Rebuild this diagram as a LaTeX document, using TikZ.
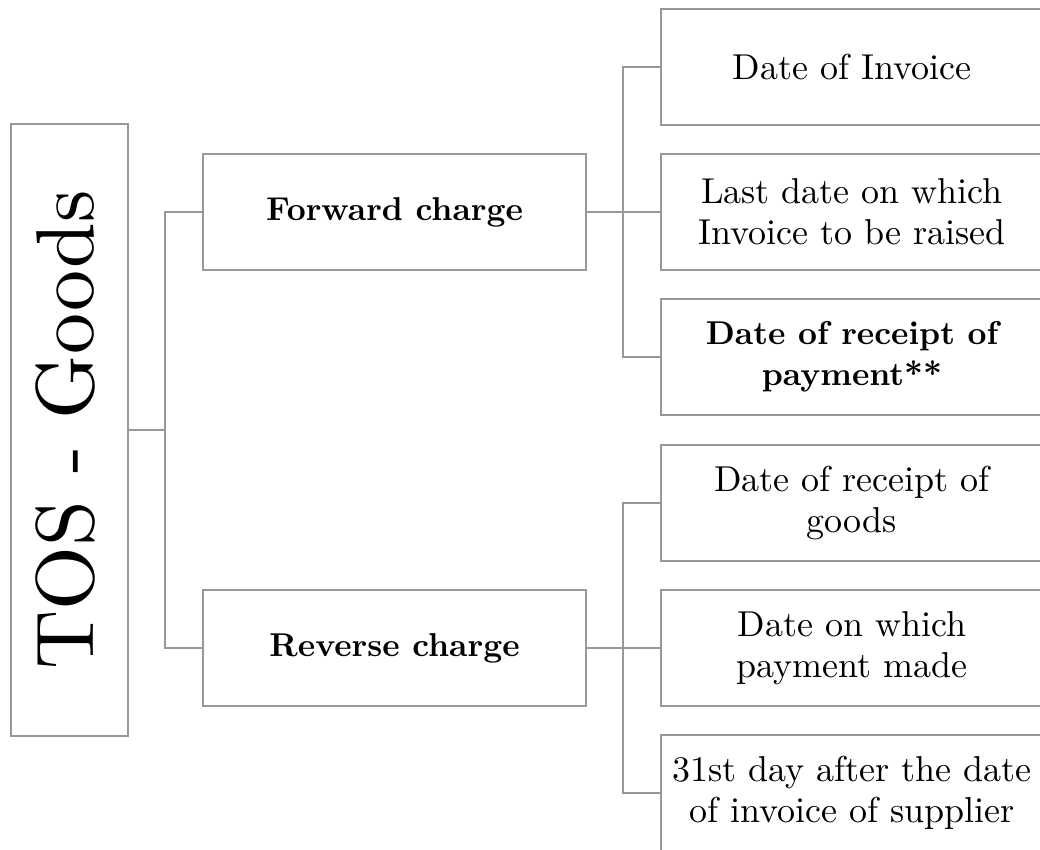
\documentclass[tikz,border=0pt]{standalone}
\usepackage{fontspec}
\setmainfont{lmroman10-regular.otf}[BoldFont=lmroman10-bold.otf, ItalicFont=lmroman10-italic.otf]
\definecolor{linegray}{RGB}{152,152,152}
\tikzset{
  box/.style={draw=linegray, line width=2.6pt, fill=white, inner sep=0pt, align=center},
  leaf/.style={box, minimum width=382pt, minimum height=116pt, font=\fontsize{36}{41}\selectfont},
  leafbold/.style={leaf, font=\fontsize{33}{41}\selectfont\bfseries},
  midbox/.style={box, minimum width=383pt, minimum height=116pt, font=\fontsize{33}{40}\selectfont\bfseries},
  conn/.style={draw=linegray, line width=2.6pt},
}
\begin{document}
\begin{tikzpicture}[x=1pt,y=-1pt]
\useasboundingbox (0,0) rectangle (1040,849);
% root
\node[box, minimum width=117pt, minimum height=612pt] (root) at (69.5,430)
  {\rotatebox{90}{\fontsize{82}{90}\selectfont TOS - Goods\rule[-10pt]{0pt}{1pt}}};
% middle level
\node[midbox] (fwd) at (394.5,212) {Forward charge};
\node[midbox] (rev) at (394.5,648) {Reverse charge};
% leaves
\node[leaf] (l1) at (852,67) {Date of Invoice};
\node[leaf] (l2) at (852,212) {Last date on which\\Invoice to be raised};
\node[leafbold] (l3) at (852,357) {Date of receipt of\\payment**};
\node[leaf] (l4) at (852,503) {Date of receipt of\\goods};
\node[leaf] (l5) at (852,648) {Date on which\\payment made};
\node[leaf] (l6) at (852,793) {31st day after the date\\of invoice of supplier};
% junctions
\coordinate (j1) at (165,430);
\coordinate (j2) at (623,212);
\coordinate (j3) at (623,648);
% connectors
\draw[conn] (root.east) -- (j1);
\draw[conn] (fwd.west) -| (j1);
\draw[conn] (rev.west) -| (j1);
\draw[conn] (fwd.east) -- (j2);
\draw[conn] (l1.west) -| (j2);
\draw[conn] (l2.west) -- (j2);
\draw[conn] (l3.west) -| (j2);
\draw[conn] (rev.east) -- (j3);
\draw[conn] (l4.west) -| (j3);
\draw[conn] (l5.west) -- (j3);
\draw[conn] (l6.west) -| (j3);
\end{tikzpicture}
\end{document}
